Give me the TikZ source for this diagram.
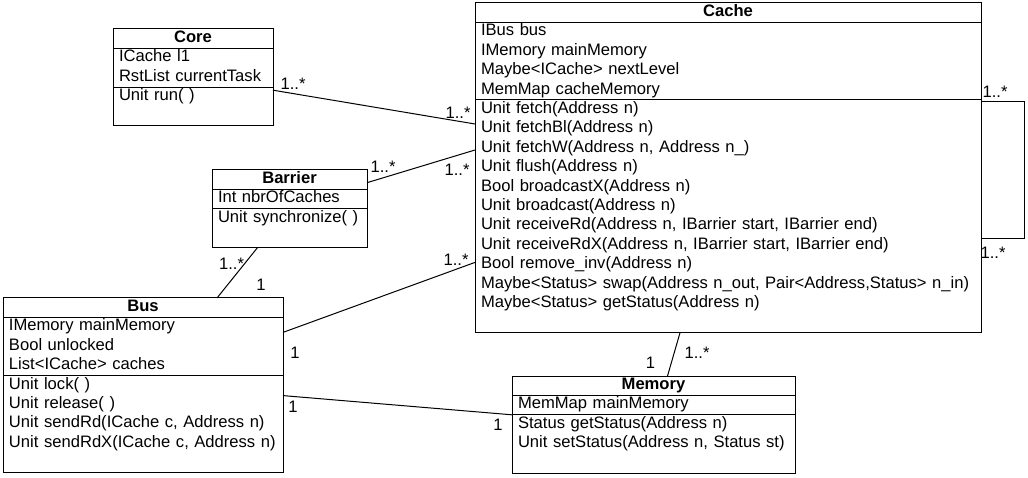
\documentclass[tikz,border=0pt]{standalone}
\usepackage{fontspec}
\setmainfont{Liberation Sans}
\usetikzlibrary{positioning, calc}
\tikzset{
  x=1pt, y=-1pt,
  every node/.style={font=\fontsize{16.6}{19.4}\selectfont},
  part/.style={draw, line width=1pt, inner xsep=6pt, inner ysep=0pt, outer sep=0pt,
    align=left, anchor=north west,
    execute at begin node=\strut, execute at end node=\strut},
  head/.style={part, align=center, font=\fontsize{16.6}{19.4}\selectfont\bfseries},
  mult/.style={inner sep=0pt},
  assoc/.style={line width=1pt},
}
\begin{document}
\begin{tikzpicture}
  \path[use as bounding box, fill=white] (0,0) rectangle (1028,478);

  % classes
  \node[head, text width=148pt] (core-h) at (113,29) {Core};
  \node[part, text width=148pt, below=0pt of core-h] (core-a) {ICache l1\\RstList currentTask};
  \node[part, text width=148pt, below=0pt of core-a] (core-o) {Unit run( )\\ \mbox{}};

  \node[head, text width=143pt] (barrier-h) at (212,170) {Barrier};
  \node[part, text width=143pt, below=0pt of barrier-h] (barrier-a) {Int nbrOfCaches};
  \node[part, text width=143pt, below=0pt of barrier-a] (barrier-o) {Unit synchronize( )\\ \mbox{}};

  \node[head, text width=268pt] (bus-h) at (3,298) {Bus};
  \node[part, text width=268pt, below=0pt of bus-h] (bus-a) {IMemory mainMemory\\Bool unlocked\\List<ICache> caches};
  \node[part, text width=268pt, below=0pt of bus-a] (bus-o) {Unit lock( )\\Unit release( )\\Unit sendRd(ICache c, Address n)\\Unit sendRdX(ICache c, Address n)\\ \mbox{}};

  \node[head, text width=494pt] (cache-h) at (475,3) {Cache};
  \node[part, text width=494pt, below=0pt of cache-h] (cache-a) {IBus bus\\IMemory mainMemory\\Maybe<ICache> nextLevel\\MemMap cacheMemory};
  \node[part, text width=494pt, below=0pt of cache-a] (cache-o) {Unit fetch(Address n)\\Unit fetchBl(Address n)\\Unit fetchW(Address n, Address n\_)\\Unit flush(Address n)\\Bool broadcastX(Address n)\\Unit broadcast(Address n)\\Unit receiveRd(Address n, IBarrier start, IBarrier end)\\Unit receiveRdX(Address n, IBarrier start, IBarrier end)\\Bool remove\_inv(Address n)\\Maybe<Status> swap(Address n\_out, Pair<Address,Status> n\_in)\\Maybe<Status> getStatus(Address n)\\ \mbox{}};

  \node[head, text width=271pt] (memory-h) at (512,376) {Memory};
  \node[part, text width=271pt, below=0pt of memory-h] (memory-a) {MemMap mainMemory};
  \node[part, text width=271pt, below=0pt of memory-a] (memory-o) {Status getStatus(Address n)\\Unit setStatus(Address n, Status st)\\ \mbox{}};

  % associations
  \draw[assoc] ($(core-o.north east)+(0,3)$) --
      node[mult, at start, xshift=20pt, yshift=6pt] {1..*}
      node[mult, at end, xshift=-17pt, yshift=11pt] {1..*}
      ($(cache-o.north west)+(0,24)$);
  \draw[assoc] ($(barrier-h.east)+(0,3)$) --
      node[mult, at start, xshift=16pt, yshift=16pt] {1..*}
      node[mult, at end, xshift=-18pt, yshift=-20pt] {1..*}
      ($(cache-o.north west)+(0,50)$);
  \draw[assoc] ($(barrier-o.south)+(-32,0)$) --
      node[mult, at start, xshift=-26pt, yshift=-16pt] {1..*}
      node[mult, at end, xshift=44pt, yshift=13pt] {1}
      ($(bus-h.north)+(74,0)$);
  \draw[assoc] ($(bus-a.north east)+(0,15)$) --
      node[mult, at start, xshift=12pt, yshift=-20pt] {1}
      node[mult, at end, xshift=-19pt, yshift=3pt] {1..*}
      ($(cache-o.west)+(0,46)$);
  \draw[assoc] ($(bus-o.north east)+(0,20)$) --
      node[mult, at start, xshift=10pt, yshift=-11pt] {1}
      node[mult, at end, xshift=-14pt, yshift=-10pt] {1}
      (memory-o.north west);
  \draw[assoc] ($(cache-o.south)+(-48,0)$) --
      node[mult, at start, xshift=17pt, yshift=-20pt] {1..*}
      node[mult, at end, xshift=-17pt, yshift=13pt] {1}
      ($(memory-h.north)+(14,0)$);
  \draw[assoc] ($(cache-o.north east)+(0,2)$) -- ++(43,0)
      node[mult, at start, xshift=14pt, yshift=10pt] {1..*}
      |- ($(cache-o.east)+(0,22)$)
      node[mult, xshift=12pt, yshift=-14pt] {1..*};
\end{tikzpicture}
\end{document}
